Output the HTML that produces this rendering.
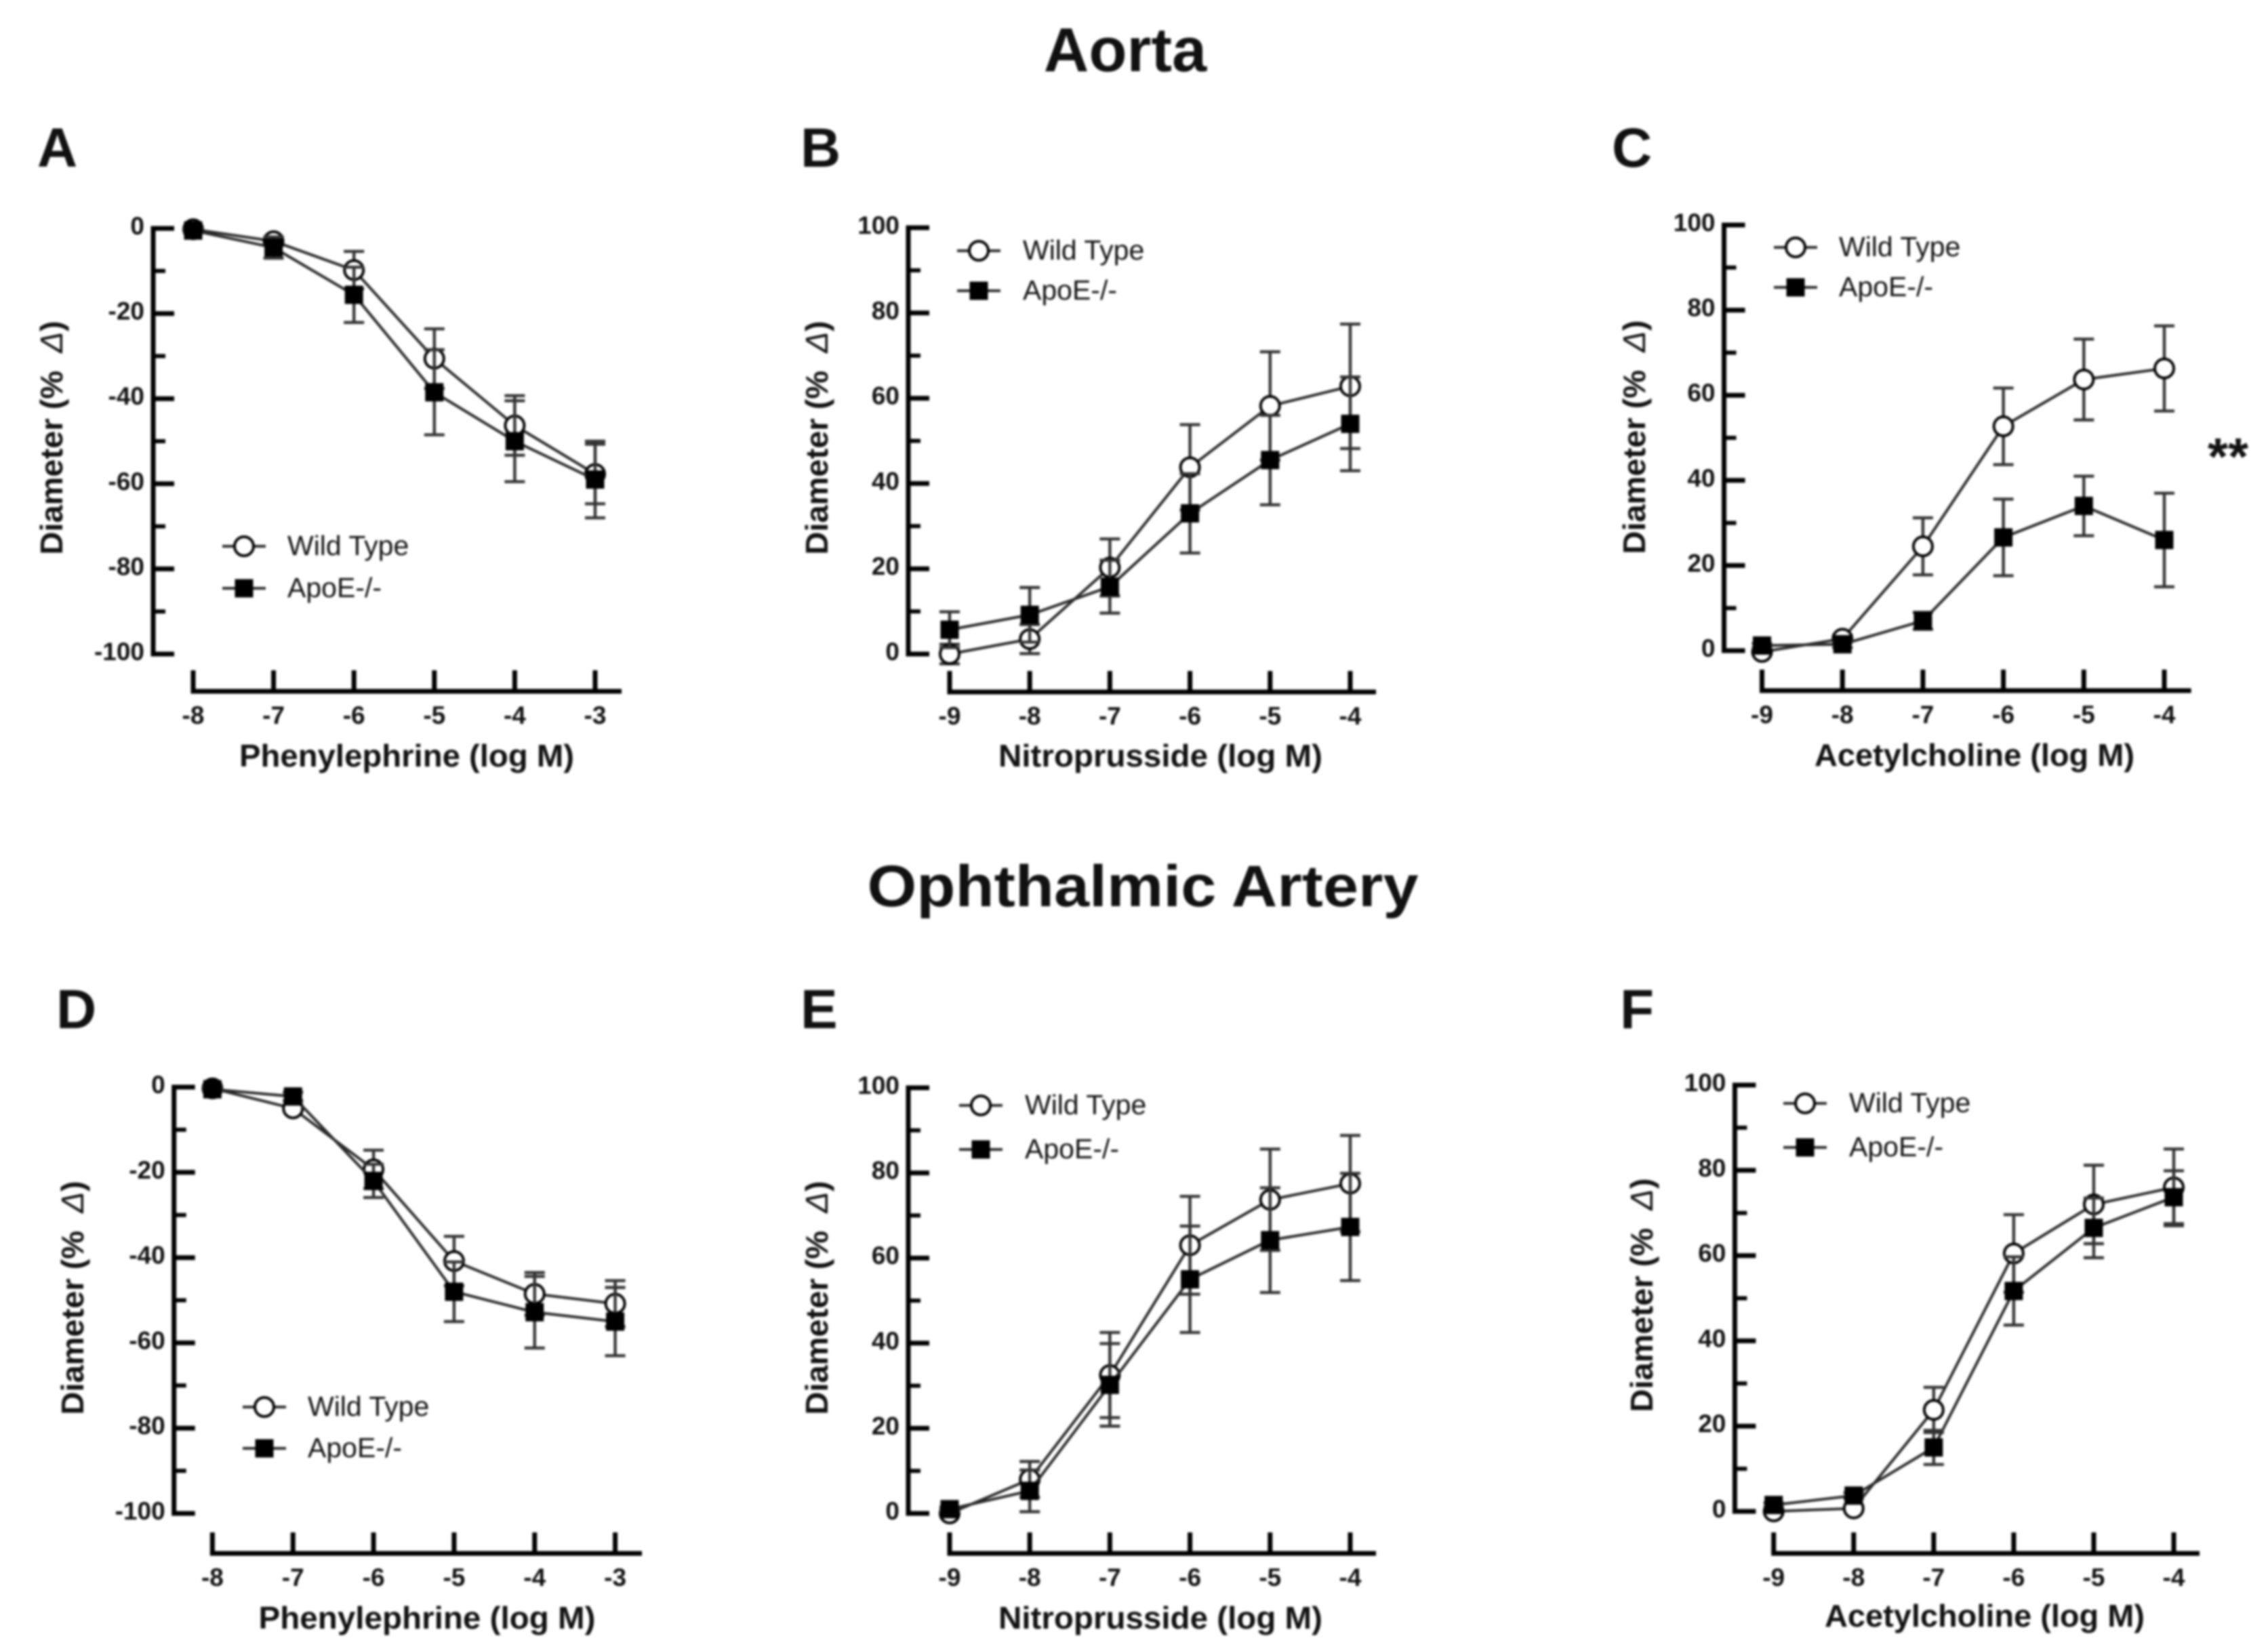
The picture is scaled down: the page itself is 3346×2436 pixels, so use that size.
<!DOCTYPE html>
<html lang="en">
<head>
<meta charset="utf-8">
<title>Aorta and Ophthalmic Artery diameter responses</title>
<style>
html,body{margin:0;padding:0;background:#fff;}
svg{display:block;filter:blur(1.6px);}
text{font-family:"Liberation Sans",sans-serif;fill:#111;}
</style>
</head>
<body>
<svg id="figure" xmlns="http://www.w3.org/2000/svg" width="3346" height="2436" viewBox="0 0 3346 2436">
<rect x="0" y="0" width="3346" height="2436" fill="#fff"/>
<text x="1660" y="105" text-anchor="middle" font-weight="700" font-size="92">Aorta</text>
<text x="1686" y="1337" text-anchor="middle" font-weight="700" font-size="86" textLength="813" lengthAdjust="spacingAndGlyphs">Ophthalmic Artery</text>
<text x="55" y="246" font-weight="700" font-size="82">A</text>
<text x="1181" y="246" font-weight="700" font-size="82">B</text>
<text x="2378" y="246" font-weight="700" font-size="82">C</text>
<text x="83" y="1517" font-weight="700" font-size="82">D</text>
<text x="1181" y="1517" font-weight="700" font-size="82">E</text>
<text x="2390" y="1517" font-weight="700" font-size="82">F</text>
<text x="3287" y="700" text-anchor="middle" font-weight="700" font-size="77">**</text>
</svg>
<script>
// ---- axis tick labels ----
const negativeYTicks = [0, -20, -40, -60, -80, -100];
const negativeYMinorTicks = [-10, -30, -50, -70, -90];
const positiveYTicks = [0, 20, 40, 60, 80, 100];
const positiveYMinorTicks = [10, 30, 50, 70, 90];
const phenylephrineDoses = [-8, -7, -6, -5, -4, -3];
const vasodilatorDoses = [-9, -8, -7, -6, -5, -4];

// ---- panel A: aorta, phenylephrine ----
const aWildType = [-0.2, -3, -9.8, -30.6, -46.3, -57.7];
const aWildTypeErr = [0.5, 1, 4.4, 7, 7, 7];
const aApoE = [-0.5, -4.5, -15.6, -38.5, -50, -59];
const aApoEErr = [0.5, 2.5, 6.5, 10, 9.5, 9];

// ---- panel B: aorta, nitroprusside ----
const bWildType = [0, 3.5, 20.3, 43.8, 58.2, 62.8];
const bWildTypeErr = [2.3, 3.4, 6.7, 10, 12.7, 14.6];
const bApoE = [5.7, 9.2, 15.8, 33, 45.5, 54];
const bApoEErr = [4.2, 6.4, 6.2, 9.3, 10.5, 11];

// ---- panel C: aorta, acetylcholine ----
const cWildType = [-0.3, 2.8, 24.5, 52.7, 63.7, 66.3];
const cWildTypeErr = [0.5, 0.8, 6.7, 9, 9.5, 10];
const cApoE = [1.2, 1.5, 7, 26.6, 34, 26];
const cApoEErr = [0.5, 0.8, 2, 9, 7, 11];

// ---- panel D: ophthalmic artery, phenylephrine ----
const dWildType = [-0.3, -5, -19.3, -40.8, -48.5, -50.8];
const dWildTypeErr = [0.5, 0.5, 4.5, 5.8, 5, 5.4];
const dApoE = [-0.5, -2.2, -22, -48, -52.8, -55];
const dApoEErr = [0.5, 1, 3.9, 7, 8.4, 8];

// ---- panel E: ophthalmic artery, nitroprusside ----
const eWildType = [0, 8, 32.5, 63, 73.7, 77.5];
const eWildTypeErr = [0.5, 4.2, 10, 11.5, 11.9, 11.3];
const eApoE = [1, 5.3, 30.2, 55, 64.2, 67.3];
const eApoEErr = [0.5, 4.9, 9.7, 12.5, 12.3, 12.6];

// ---- panel F: ophthalmic artery, acetylcholine ----
const fWildType = [0, 0.7, 23.8, 60.5, 72, 76];
const fWildTypeErr = [0.5, 0.5, 5.3, 9.1, 9.2, 9];
const fApoE = [1.5, 3.7, 15, 51.7, 66.5, 73.7];
const fApoEErr = [0.5, 0.7, 4, 8, 7, 6.2];

const SVG_NS = 'http://www.w3.org/2000/svg';
const INK = '#000';
const LINE = '#2a2a2a';
const figure = document.getElementById('figure');

function make(parent, tag, attrs, content) {
  const node = document.createElementNS(SVG_NS, tag);
  for (const key in attrs) node.setAttribute(key, attrs[key]);
  if (content !== undefined) node.textContent = content;
  parent.appendChild(node);
  return node;
}

function drawSeries(group, xAt, yAt, doses, values, errs, filled, seriesName) {
  const pathData = values.map((v, i) => (i ? 'L' : 'M') + xAt(doses[i]) + ' ' + yAt(v)).join(' ');
  const path = make(group, 'path', {d: pathData, fill: 'none', stroke: LINE, 'stroke-width': 4});
  
  

  values.forEach((v, i) => {
    const x = xAt(doses[i]);
    const top = yAt(v + errs[i]);
    const bottom = yAt(v - errs[i]);
    const bar = make(group, 'path', {
      d: 'M' + x + ' ' + top + ' V' + bottom + ' M' + (x - 15) + ' ' + top + ' H' + (x + 15) + ' M' + (x - 15) + ' ' + bottom + ' H' + (x + 15),
      fill: 'none', stroke: '#333', 'stroke-width': 4.4
    });
    
    
  });

  values.forEach((v, i) => {
    const x = xAt(doses[i]);
    const y = yAt(v);
    if (filled) {
      const square = make(group, 'rect', {x: x - 13.5, y: y - 13.5, width: 27, height: 27, fill: '#000'});
      
      
    } else {
      const circle = make(group, 'circle', {cx: x, cy: y, r: 14, fill: '#fff', stroke: INK, 'stroke-width': 4});
      
      
    }
  });
}

function drawPanel(p) {
  const group = make(figure, 'g', {});
  
  

  const yAt = v => p.yZero + (v / p.yRange) * (p.yEnd - p.yZero);
  const xAt = d => p.xFirst + (d - p.doses[0]) / (p.doses[p.doses.length - 1] - p.doses[0]) * (p.xLast - p.xFirst);

  // y axis
  const yLine = make(group, 'line', {x1: p.axisX, x2: p.axisX, y1: Math.min(yAt(p.yTicks[0]), yAt(p.yTicks[5])) - 3.5, y2: Math.max(yAt(p.yTicks[0]), yAt(p.yTicks[5])) + 3.5, stroke: INK, 'stroke-width': 7});
  
  
  p.yTicks.forEach(t => {
    const tick = make(group, 'line', {x1: p.axisX, x2: p.axisX + 31, y1: yAt(t), y2: yAt(t), stroke: INK, 'stroke-width': 7});
    
    
    const label = make(group, 'text', {x: p.axisX - 13, y: yAt(t) + 9, 'text-anchor': 'end', 'font-size': 37, 'font-weight': 700}, String(t));
    
    
  });
  p.yMinor.forEach(t => {
    const tick = make(group, 'line', {x1: p.axisX, x2: p.axisX + 18, y1: yAt(t), y2: yAt(t), stroke: INK, 'stroke-width': 6});
    
    
  });

  // x axis
  const xLine = make(group, 'line', {x1: p.xFirst - 3.5, x2: p.xEnd, y1: p.axisY, y2: p.axisY, stroke: INK, 'stroke-width': 7});
  
  
  p.doses.forEach(d => {
    const tick = make(group, 'line', {x1: xAt(d), x2: xAt(d), y1: p.axisY - 31, y2: p.axisY, stroke: INK, 'stroke-width': 7});
    
    
    const label = make(group, 'text', {x: xAt(d), y: p.axisY + 48, 'text-anchor': 'middle', 'font-size': 37, 'font-weight': 700}, String(d));
    
    
  });

  // axis titles
  const xTitle = make(group, 'text', {x: p.xTitleX, y: p.xTitleY, 'text-anchor': 'middle', 'font-size': 46, 'font-weight': 700, textLength: p.xTitleLen, lengthAdjust: 'spacingAndGlyphs'}, p.xTitle);
  
  
  const yTitle = make(group, 'text', {transform: 'translate(' + p.yTitleX + ',' + p.yTitleY + ') rotate(-90)', 'text-anchor': 'middle', 'font-size': 46, 'font-weight': 700, textLength: 345, lengthAdjust: 'spacingAndGlyphs'}, 'Diameter (%\u00A0\u00A0');
  
  
  const delta = make(yTitle, 'tspan', {'font-weight': 400, 'font-style': 'italic'}, '\u0394');
  
  
  yTitle.appendChild(document.createTextNode(')'));

  // data
  drawSeries(group, xAt, yAt, p.doses, p.wt, p.wtErr, false, 'wild-type');
  drawSeries(group, xAt, yAt, p.doses, p.apo, p.apoErr, true, 'apoe');

  // legend
  const wtKeyLine = make(group, 'line', {x1: p.legX - 32, x2: p.legX + 32, y1: p.legY1, y2: p.legY1, stroke: LINE, 'stroke-width': 4});
  
  
  const wtKey = make(group, 'circle', {cx: p.legX, cy: p.legY1, r: 14, fill: '#fff', stroke: INK, 'stroke-width': 4});
  
  
  const wtText = make(group, 'text', {x: p.legTextX, y: p.legY1 + 13, 'font-size': 41, fill: '#222'}, 'Wild Type');
  
  

  const apoKeyLine = make(group, 'line', {x1: p.legX - 32, x2: p.legX + 32, y1: p.legY2, y2: p.legY2, stroke: LINE, 'stroke-width': 4});
  
  
  const apoKey = make(group, 'rect', {x: p.legX - 13.5, y: p.legY2 - 13.5, width: 27, height: 27, fill: '#000'});
  
  
  const apoText = make(group, 'text', {x: p.legTextX, y: p.legY2 + 13, 'font-size': 41, fill: '#222'}, 'ApoE-/-');
  
  
}

drawPanel({id: 'a', doses: phenylephrineDoses, yTicks: negativeYTicks, yMinor: negativeYMinorTicks, yRange: -100,
  wt: aWildType, wtErr: aWildTypeErr, apo: aApoE, apoErr: aApoEErr,
  axisX: 226, yZero: 337, yEnd: 965, axisY: 1020, xFirst: 285, xLast: 878, xEnd: 917,
  xTitle: 'Phenylephrine (log M)', xTitleX: 600, xTitleY: 1131, xTitleLen: 494, yTitleX: 92, yTitleY: 646,
  legX: 360, legY1: 806, legY2: 868, legTextX: 424});

drawPanel({id: 'b', doses: vasodilatorDoses, yTicks: positiveYTicks, yMinor: positiveYMinorTicks, yRange: 100,
  wt: bWildType, wtErr: bWildTypeErr, apo: bApoE, apoErr: bApoEErr,
  axisX: 1340, yZero: 965, yEnd: 336, axisY: 1021, xFirst: 1401, xLast: 1992, xEnd: 2030,
  xTitle: 'Nitroprusside (log M)', xTitleX: 1712, xTitleY: 1131, xTitleLen: 478, yTitleX: 1221, yTitleY: 646,
  legX: 1444, legY1: 370, legY2: 429, legTextX: 1509});

drawPanel({id: 'c', doses: vasodilatorDoses, yTicks: positiveYTicks, yMinor: positiveYMinorTicks, yRange: 100,
  wt: cWildType, wtErr: cWildTypeErr, apo: cApoE, apoErr: cApoEErr,
  axisX: 2543.5, yZero: 960, yEnd: 332, axisY: 1019, xFirst: 2599.5, xLast: 3193, xEnd: 3232.6,
  xTitle: 'Acetylcholine (log M)', xTitleX: 2913, xTitleY: 1130, xTitleLen: 472, yTitleX: 2427, yTitleY: 645,
  legX: 2649, legY1: 365, legY2: 424, legTextX: 2713});

drawPanel({id: 'd', doses: phenylephrineDoses, yTicks: negativeYTicks, yMinor: negativeYMinorTicks, yRange: -100,
  wt: dWildType, wtErr: dWildTypeErr, apo: dApoE, apoErr: dApoEErr,
  axisX: 256.7, yZero: 1604, yEnd: 2233, axisY: 2292, xFirst: 313.4, xLast: 907.6, xEnd: 947,
  xTitle: 'Phenylephrine (log M)', xTitleX: 630, xTitleY: 2403, xTitleLen: 497, yTitleX: 123, yTitleY: 1915,
  legX: 390, legY1: 2076, legY2: 2137, legTextX: 454});

drawPanel({id: 'e', doses: vasodilatorDoses, yTicks: positiveYTicks, yMinor: positiveYMinorTicks, yRange: 100,
  wt: eWildType, wtErr: eWildTypeErr, apo: eApoE, apoErr: eApoEErr,
  axisX: 1340, yZero: 2233, yEnd: 1605, axisY: 2292, xFirst: 1401, xLast: 1992, xEnd: 2030,
  xTitle: 'Nitroprusside (log M)', xTitleX: 1712, xTitleY: 2403, xTitleLen: 478, yTitleX: 1221, yTitleY: 1915,
  legX: 1447, legY1: 1631, legY2: 1696, legTextX: 1512});

drawPanel({id: 'f', doses: vasodilatorDoses, yTicks: positiveYTicks, yMinor: positiveYMinorTicks, yRange: 100,
  wt: fWildType, wtErr: fWildTypeErr, apo: fApoE, apoErr: fApoEErr,
  axisX: 2559.4, yZero: 2230, yEnd: 1601, axisY: 2292, xFirst: 2616.7, xLast: 3207, xEnd: 3245,
  xTitle: 'Acetylcholine (log M)', xTitleX: 2928, xTitleY: 2400, xTitleLen: 472, yTitleX: 2438, yTitleY: 1911,
  legX: 2663, legY1: 1628, legY2: 1693, legTextX: 2728});
</script>
</body>
</html>
